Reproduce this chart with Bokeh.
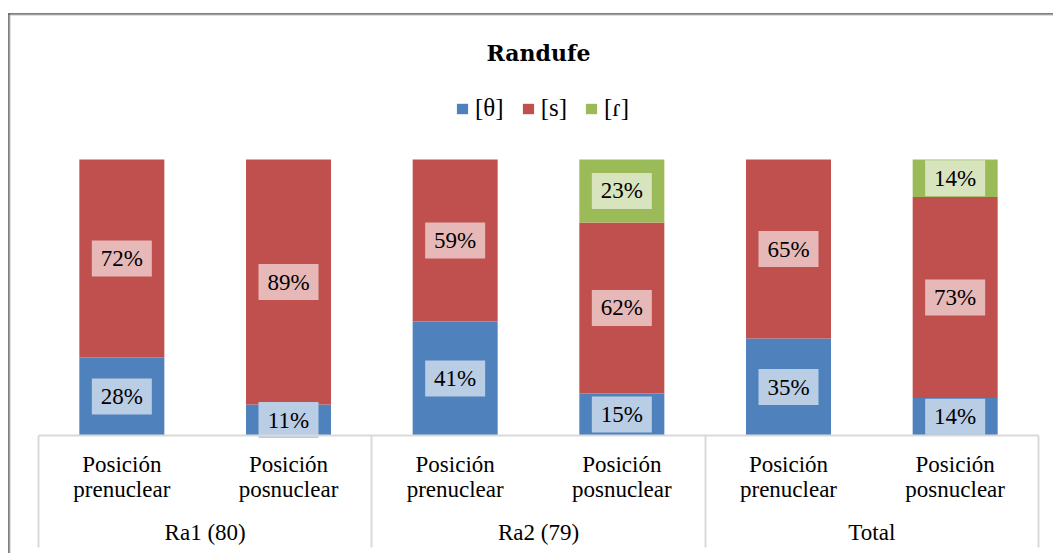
import numpy as np
from bokeh.plotting import figure
from bokeh.models import (ColumnDataSource, Range1d, FixedTicker, LinearAxis,
                          Legend, LegendItem, BoxAnnotation, Label)
from bokeh.core.properties import value
from bokeh.embed import file_html
from bokeh.resources import INLINE

# ---------------- data ----------------
title_text = "Randufe"
groups = ["Ra1 (80)", "Ra2 (79)", "Total"]
positions = ["Posición\nprenuclear", "Posición\nposnuclear"]
series_names = ["[θ]", "[s]", "[ɾ]"]
theta = [28.3, 11.2, 41.3, 15.2, 35.1, 13.6]
s_vals = [71.7, 88.8, 58.7, 62.0, 64.9, 72.8]
tap = [0.0, 0.0, 0.0, 22.8, 0.0, 13.6]

bar_colors = ["#4F81BD", "#C0504D", "#9BBB59"]
label_colors = ["#B9CDE5", "#E6B9B8", "#D7E4BD"]

# ---------------- derived ----------------
n_pos = len(positions)
n = len(groups) * n_pos
xs = np.arange(n) + 0.5
series = [theta, s_vals, tap]
keys = ["theta", "s", "tap"]
src = ColumnDataSource(dict(x=xs, theta=theta, s=s_vals, tap=tap))

serif = "Liberation Serif"
W, H = 1053, 553
# plot area (bars) in canvas px: left, right, top, bottom
PL, PR, PT, PB = 38, 1038, 159, 435
ymax = 100.0
kx = (PR - PL) / n           # px per category
ky = (PB - PT) / ymax        # px per percent
x_range = Range1d(-PL / kx, n + (W - PR) / kx)
y_range = Range1d(-(H - PB) / ky, ymax + PT / ky)

p = figure(width=W, height=H, x_range=x_range, y_range=y_range,
           output_backend="svg", toolbar_location=None, title=None,
           x_axis_location=None, y_axis_location=None,
           min_border=0, min_border_left=0, min_border_right=0,
           min_border_top=0, min_border_bottom=0)
p.outline_line_color = None
p.xgrid.visible = False
p.ygrid.visible = False
p.background_fill_color = "white"
p.border_fill_color = "white"

renderers = p.vbar_stack(keys, x="x", width=0.51, color=bar_colors, source=src,
                         line_color=None)

# data labels
bottom = np.zeros(n)
for vals, bg in zip(series, label_colors):
    vals = np.array(vals)
    centers = bottom + vals / 2
    mask = vals > 0
    lsrc = ColumnDataSource(dict(x=xs[mask], y=centers[mask],
                                 t=[f"{v:.0f}%" for v in vals[mask]]))
    p.rect(x="x", y="y", width=60, height=36, width_units="screen",
           height_units="screen", fill_color=bg, line_color=None, source=lsrc)
    p.text(x="x", y="y", text="t", source=lsrc, text_align="center",
           text_baseline="middle", text_font=value(serif),
           text_font_size="23px", text_color="#000000")
    bottom = bottom + vals

# title
p.add_layout(Label(x=(PL + PR) / 2, y=H - 52, x_units="screen", y_units="screen",
                   text=title_text, text_align="center", text_baseline="middle",
                   text_font="DejaVu Serif", text_font_style="bold",
                   text_font_size="22px", text_color="#000000"))

# legend
legend = Legend(items=[LegendItem(label=nm, renderers=[r])
                       for nm, r in zip(series_names, renderers)],
                orientation="horizontal", location=(455, H - 122),
                glyph_width=14, glyph_height=13, label_standoff=6, spacing=17,
                label_text_font=serif, label_text_font_size="25px",
                label_text_color="#000000", border_line_color=None,
                background_fill_alpha=0, padding=0, margin=0)
p.add_layout(legend, "center")

# x axis: position labels, with group separators as minor ticks
ax1 = LinearAxis(fixed_location=0, bounds=(0, n))
ax1.ticker = FixedTicker(ticks=list(xs),
                         minor_ticks=[i * n_pos for i in range(len(groups) + 1)])
ax1.major_label_overrides = {float(x): positions[i % n_pos] for i, x in enumerate(xs)}
ax1.major_tick_line_color = None
ax1.minor_tick_line_color = "#D9D9D9"
ax1.minor_tick_line_width = 2
ax1.minor_tick_out = 112
ax1.minor_tick_in = 0
ax1.axis_line_color = "#D9D9D9"
ax1.axis_line_width = 2
ax1.major_label_text_font = serif
ax1.major_label_text_font_size = "23px"
ax1.major_label_text_color = "#000000"
ax1.major_label_text_line_height = 1.0
ax1.major_label_standoff = -96
p.add_layout(ax1, "below")

group_centers = [i * n_pos + n_pos / 2 for i in range(len(groups))]
ax2 = LinearAxis(fixed_location=0, bounds=(0, n),
                 ticker=FixedTicker(ticks=group_centers, minor_ticks=[]),
                 major_label_overrides={float(c): g for c, g in zip(group_centers, groups)},
                 axis_line_color=None, major_tick_line_color=None,
                 major_tick_out=0, major_tick_in=0, minor_tick_out=0, minor_tick_in=0,
                 minor_tick_line_color=None, major_label_text_font=serif,
                 major_label_text_font_size="23px", major_label_text_color="#000000",
                 major_label_standoff=84)
p.add_layout(ax2, "below")

# outer chart border (top and left edges visible)
bx0, by0 = 8, 13
for l, r, t, b, c in [(bx0, bx0 + 1, by0, H, "#000000"),
                      (bx0 + 1, bx0 + 2, by0 + 1, H, "#BFBFBF"),
                      (bx0, W, by0, by0 + 1, "#000000"),
                      (bx0 + 1, W, by0 + 1, by0 + 2, "#BFBFBF")]:
    p.add_layout(BoxAnnotation(left=l, right=r, top=H - t, bottom=H - b,
                               left_units="screen", right_units="screen",
                               top_units="screen", bottom_units="screen",
                               fill_color=c, fill_alpha=1, line_color=None,
                               level="overlay"))

open("out.html", "w").write(file_html(p, INLINE))
